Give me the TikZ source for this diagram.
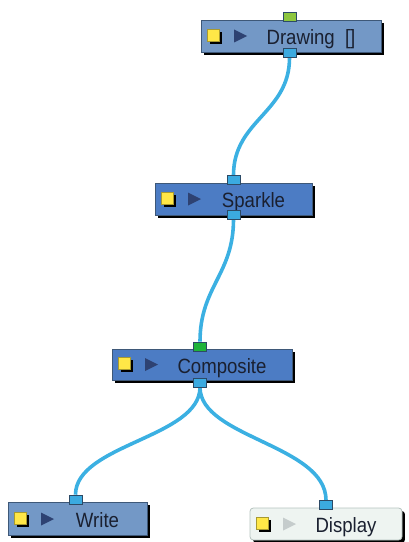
\documentclass[tikz,border=0pt]{standalone}
\usepackage{fontspec}
\usepackage{xcolor}
\newfontfamily\nodefont{Liberation Sans}
\usetikzlibrary{shadows,backgrounds}
\definecolor{NVLight}{HTML}{7398C6}
\definecolor{NVDark}{HTML}{4C7CC4}
\definecolor{NVEdge}{HTML}{3E5878}
\definecolor{NVDisplay}{HTML}{EEF4F1}
\definecolor{NVDisplayEdge}{HTML}{B5C3BE}
\definecolor{NVPort}{HTML}{3BAAE0}
\definecolor{NVPortEdge}{HTML}{2C4A66}
\definecolor{NVLime}{HTML}{8DC63F}
\definecolor{NVGreen}{HTML}{20B43A}
\definecolor{NVWire}{HTML}{3BB0E2}
\definecolor{NVYellow}{HTML}{FFE747}
\definecolor{NVYellowEdge}{HTML}{A89A30}
\definecolor{NVTriDark}{HTML}{2E4272}
\definecolor{NVTriLight}{HTML}{C5CCCC}
\definecolor{NVText}{HTML}{1A2030}
\tikzset{
  nodebox/.style={draw=NVEdge,line width=0.6pt,inner sep=0pt,minimum height=24pt,
    general shadow={fill=black,shadow xshift=2.2pt,shadow yshift=-2.2pt}},
  yellowicon/.style={draw=NVYellowEdge,fill=NVYellow,line width=0.4pt,inner sep=0pt,minimum size=9pt,
    general shadow={fill=black,shadow xshift=2pt,shadow yshift=-2pt}},
  nodelabel/.style={anchor=base,inner sep=0pt,text=NVText,xscale=0.9,transform shape,
    font=\nodefont\fontsize{15.5}{17}\selectfont},
  port/.style={draw=NVPortEdge,fill=NVPort,line width=0.5pt,inner sep=0pt,minimum width=9.75pt,minimum height=6.75pt},
  wire/.style={draw=NVWire,line width=2.7pt}
}

\begin{document}
\begin{tikzpicture}[x=0.75pt,y=-0.75pt]
\path[use as bounding box] (0,0) rectangle (408,542);
% Drawing
\node[nodebox,fill=NVLight,minimum width=135pt] (drawing) at (291,36) {};
\node[yellowicon] (drawingIcon) at (213,35) {};
\fill[NVTriDark] (234,29.5) -- (247,36) -- (234,42.5) -- cycle;
\node[nodelabel] (drawingLabel) at (311,44.5) {Drawing\hspace{0.55em}[]};
\node[port,fill=NVLime] (drawingIn) at (289.5,17) {};
\node[port] (drawingOut) at (289.5,53) {};
% Sparkle
\node[nodebox,fill=NVDark,minimum width=117.75pt] (sparkle) at (233.5,199) {};
\node[yellowicon] (sparkleIcon) at (167,198) {};
\fill[NVTriDark] (188,192.5) -- (201,199) -- (188,205.5) -- cycle;
\node[nodelabel] (sparkleLabel) at (253.5,207.5) {Sparkle};
\node[port] (sparkleIn) at (233.5,180) {};
\node[port] (sparkleOut) at (233.5,214.5) {};
% Composite
\node[nodebox,fill=NVDark,minimum width=135pt,minimum height=23.25pt] (composite) at (202,364.5) {};
\node[yellowicon] (compositeIcon) at (124,363.5) {};
\fill[NVTriDark] (145,358) -- (158,364.5) -- (145,371) -- cycle;
\node[nodelabel] (compositeLabel) at (222,373) {Composite};
\node[port,fill=NVGreen] (compositeIn) at (200,346.5) {};
\node[port] (compositeOut) at (200,382.5) {};
% Write
\node[nodebox,fill=NVLight,minimum width=104.25pt,minimum height=24.75pt] (write) at (77.5,519) {};
\node[yellowicon] (writeIcon) at (20,518) {};
\fill[NVTriDark] (41,512.5) -- (54,519) -- (41,525.5) -- cycle;
\node[nodelabel] (writeLabel) at (97.5,527.5) {Write};
\node[port] (writeIn) at (75.5,499.5) {};
% Display
\node[nodebox,draw=NVDisplayEdge,fill=NVDisplay,rounded corners=2.5pt,minimum width=114pt] (display) at (326,524) {};
\node[yellowicon] (displayIcon) at (262,523) {};
\fill[NVTriLight] (283,517.5) -- (296,524) -- (283,530.5) -- cycle;
\node[nodelabel] (displayLabel) at (346,532.5) {Display};
\node[port] (displayIn) at (326,505) {};
% wires
\begin{scope}[on background layer]
\draw[wire] (drawingOut) .. controls +(0,60) and +(0,-60) .. (sparkleIn);
\draw[wire] (sparkleOut) .. controls +(0,60) and +(0,-60) .. (compositeIn);
\draw[wire] (compositeOut) .. controls +(0,55) and +(0,-55) .. (writeIn);
\draw[wire] (compositeOut) .. controls +(0,55) and +(0,-60) .. (displayIn);
\end{scope}
\end{tikzpicture}
\end{document}
